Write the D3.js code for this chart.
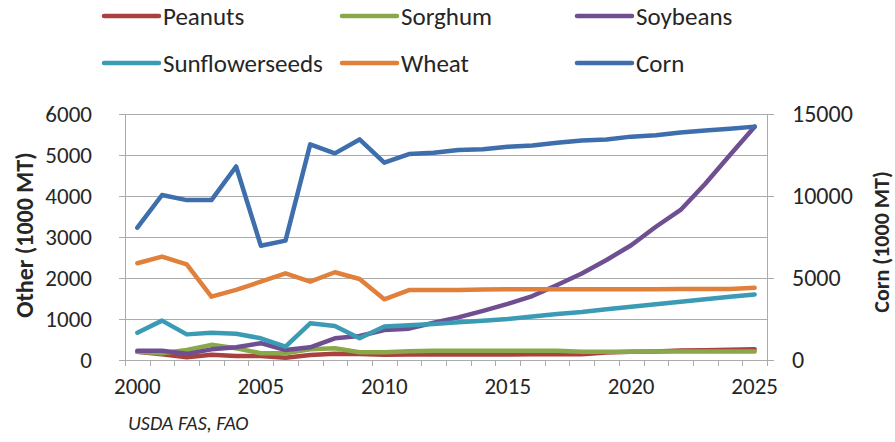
<!DOCTYPE html>
<html><head><meta charset="utf-8">
<script src="https://cdn.jsdelivr.net/npm/d3@7/dist/d3.min.js"></script>
<style>
body{margin:0;background:#fff;}
svg text{font-family:Carlito,Calibri,Lato,"Open Sans",sans-serif;fill:#262626;}
</style></head>
<body><svg id="c" width="895" height="442"></svg>
<script>
const years = d3.range(2000, 2026);
const peanuts = [200,140,65,130,100,95,55,120,150,145,130,135,135,135,135,135,140,140,140,180,200,210,230,240,250,265];
const sorghum = [200,165,245,370,285,165,165,260,285,190,190,215,225,225,225,225,225,225,200,200,200,205,205,205,205,205];
const soybeans = [228,228,150,260,310,410,245,310,530,585,730,765,910,1040,1200,1370,1560,1830,2110,2440,2800,3250,3660,4300,5000,5690];
const sunflowerseeds = [665,960,625,665,640,530,325,895,830,530,815,845,880,920,960,1000,1060,1120,1170,1240,1300,1360,1420,1480,1540,1600];
const wheat = [2360,2520,2330,1545,1710,1910,2115,1910,2140,1975,1480,1705,1705,1710,1720,1725,1725,1725,1725,1725,1725,1725,1730,1730,1730,1760];
const corn = [8070,10060,9750,9750,11800,6970,7280,13150,12600,13450,12030,12560,12640,12800,12850,13000,13080,13250,13380,13450,13620,13700,13870,14000,14100,14230];
const leftTicks = [0,1000,2000,3000,4000,5000,6000];
const rightTicks = [0,5000,10000,15000];
const xLabels = [2000,2005,2010,2015,2020,2025];

const series = [
  {name:"Peanuts", values:peanuts, color:"#A9423F", axis:"L"},
  {name:"Sorghum", values:sorghum, color:"#89A84A", axis:"L"},
  {name:"Soybeans", values:soybeans, color:"#6F4F92", axis:"L"},
  {name:"Sunflowerseeds", values:sunflowerseeds, color:"#3B9BB5", axis:"L"},
  {name:"Wheat", values:wheat, color:"#E0803A", axis:"L"},
  {name:"Corn", values:corn, color:"#3E6EAC", axis:"R"}
];

const svg = d3.select("#c");
const L = 125, R = 767, T = 114, B = 360;
const x = d3.scaleBand().domain(years).range([L, R]).paddingInner(0).paddingOuter(0);
const xc = d => x(d) + x.bandwidth()/2;
const yL = d3.scaleLinear().domain([0,6000]).range([B, T]);
const yR = d3.scaleLinear().domain([0,15000]).range([B, T]);
const grid = "#ababab";

svg.append("g").selectAll("line").data(leftTicks).join("line")
  .attr("x1", L-6).attr("x2", R).attr("y1", d=>Math.round(yL(d))+0.5).attr("y2", d=>Math.round(yL(d))+0.5)
  .attr("stroke", grid).attr("stroke-width",1);
svg.append("g").selectAll("line").data(rightTicks).join("line")
  .attr("x1", R).attr("x2", R+7).attr("y1", d=>Math.round(yR(d))+0.5).attr("y2", d=>Math.round(yR(d))+0.5)
  .attr("stroke", grid);
svg.append("line").attr("x1",L+0.5).attr("x2",L+0.5).attr("y1",T).attr("y2",B+6).attr("stroke",grid);
svg.append("line").attr("x1",R+0.5).attr("x2",R+0.5).attr("y1",T).attr("y2",B+6).attr("stroke",grid);
const bounds = years.map(d=>x(d)).concat([R]);
svg.append("g").selectAll("line").data(bounds).join("line")
  .attr("x1", d=>Math.round(d)+0.5).attr("x2", d=>Math.round(d)+0.5).attr("y1", B).attr("y2", B+6)
  .attr("stroke", grid);

svg.append("g").selectAll("text").data(leftTicks).join("text")
  .attr("x", 92).attr("y", d=>yL(d)).attr("dy","0.35em").attr("text-anchor","end")
  .style("font-size","23px").text(d=>d);
svg.append("g").selectAll("text").data(rightTicks).join("text")
  .attr("x", R+25).attr("y", d=>yR(d)).attr("dy","0.35em").attr("text-anchor","start")
  .style("font-size","24px").text(d=>d);
svg.append("g").selectAll("text").data(xLabels).join("text")
  .attr("x", d=>xc(d)).attr("y", 386).attr("dy","0.35em").attr("text-anchor","middle")
  .style("font-size","23px").text(d=>d);

svg.append("text").attr("transform","translate(25,235) rotate(-90)").attr("text-anchor","middle")
  .attr("dy","0.35em").style("font-size","24px").style("font-weight","bold").text("Other (1000 MT)");
svg.append("text").attr("transform","translate(881,242) rotate(-90)").attr("text-anchor","middle")
  .attr("dy","0.35em").style("font-size","22px").style("font-weight","bold").text("Corn (1000 MT)");

svg.append("text").attr("x",128).attr("y",423).attr("dy","0.35em").style("font-size","20px")
  .style("font-style","italic").text("USDA FAS, FAO");

const gl = svg.append("g");
series.forEach(s => {
  const ys = s.axis === "L" ? yL : yR;
  const line = d3.line().x((d,i)=>xc(years[i])).y(d=>ys(d));
  gl.append("path").datum(s.values).attr("d", line).attr("fill","none")
    .attr("stroke", s.color).attr("stroke-width",4.5).attr("stroke-linejoin","round").attr("stroke-linecap","round");
});

const legX = [104, 342, 577], legY = [16, 63];
const lg = svg.append("g").selectAll("g").data(series).join("g")
  .attr("transform",(d,i)=>`translate(${legX[i%3]},${legY[Math.floor(i/3)]})`);
lg.append("line").attr("x1",0).attr("x2",55).attr("y1",0).attr("y2",0)
  .attr("stroke",d=>d.color).attr("stroke-width",4.5).attr("stroke-linecap","round");
lg.append("text").attr("x",59).attr("y",0).attr("dy","0.35em").style("font-size","25px").text(d=>d.name);
</script></body></html>
